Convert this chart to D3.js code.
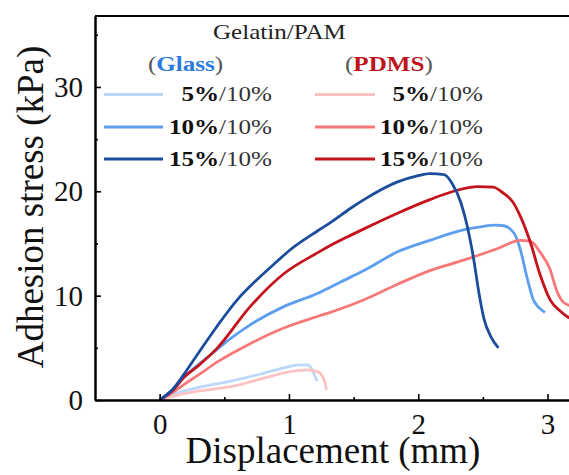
<!DOCTYPE html>
<html>
<head>
<meta charset="utf-8">
<script src="https://cdn.jsdelivr.net/npm/d3@7"></script>
<style>
  body { margin: 0; background: #fff; }
  svg { display: block; font-family: "Liberation Serif", "Times New Roman", serif; }
</style>
</head>
<body>
<svg id="chart" width="569" height="475"></svg>
<script>
// curves: [displacement mm, stress kPa]
const glass5 = [[0,0],[0.15,0.7],[0.3,1.2],[0.55,1.8],[0.8,2.55],[1.0,3.2],[1.06,3.35],[1.14,3.36],[1.18,2.9],[1.2,2.3],[1.22,1.8]];
const glass10 = [[0,0],[0.1,1.0],[0.19,2.2],[0.3,3.4],[0.44,4.8],[0.55,5.9],[0.7,7.2],[0.96,8.95],[1.22,10.2],[1.32,10.8],[1.48,11.8],[1.58,12.4],[1.84,14.2],[2.09,15.3],[2.35,16.3],[2.48,16.6],[2.6,16.75],[2.66,16.7],[2.74,16.0],[2.79,14.4],[2.84,11.8],[2.89,9.6],[2.93,8.9],[2.98,8.4]];
const glass15 = [[0,0],[0.1,1.0],[0.19,2.5],[0.3,4.5],[0.44,7.0],[0.6,9.6],[0.75,11.5],[0.9,13.2],[1.01,14.4],[1.22,16.2],[1.32,17.0],[1.48,18.4],[1.58,19.2],[1.84,20.9],[2.0,21.5],[2.09,21.7],[2.2,21.6],[2.26,20.8],[2.33,18.9],[2.38,16.6],[2.43,13.4],[2.47,10.2],[2.51,7.7],[2.56,6.1],[2.62,5.0]];
const pdms5 = [[0,0],[0.15,0.5],[0.3,0.85],[0.55,1.27],[0.8,2.08],[1.01,2.72],[1.14,2.88],[1.22,2.72],[1.26,2.24],[1.28,1.6],[1.29,0.96]];
const pdms10 = [[0,0],[0.1,0.7],[0.19,1.5],[0.3,2.4],[0.44,3.6],[0.7,5.4],[0.96,6.9],[1.22,8.0],[1.32,8.4],[1.48,9.1],[1.58,9.6],[1.84,11.1],[2.09,12.4],[2.35,13.4],[2.61,14.5],[2.79,15.3],[2.87,15.2],[2.94,14.2],[3.02,12.5],[3.07,10.5],[3.12,9.4],[3.16,9.1],[3.2,8.9]];
const pdms15 = [[0,0],[0.1,0.9],[0.19,2.2],[0.3,3.3],[0.44,4.9],[0.7,8.95],[0.96,12.1],[1.22,14.1],[1.32,14.8],[1.48,15.8],[1.58,16.4],[1.84,17.9],[2.09,19.2],[2.3,20.1],[2.46,20.45],[2.58,20.4],[2.66,19.8],[2.73,19.0],[2.79,17.6],[2.87,15.0],[2.94,12.1],[3.02,9.6],[3.1,8.5],[3.15,8.0],[3.2,7.7]];

const seriesNames = ["glass5", "pdms5", "glass10", "pdms10", "pdms15", "glass15"];
const seriesData = [glass5, pdms5, glass10, pdms10, pdms15, glass15];
const seriesColors = ["#bcd7f7", "#fbc3c3", "#5e9eef", "#f77878", "#c4131b", "#1b4d9c"];

const xTicks = [0, 1, 2, 3];
const xMinor = [0.5, 1.5, 2.5];
const yTicks = [0, 10, 20, 30];
const yMinor = [5, 15, 25, 35];

const legendPercent = ["5%", "10%", "15%"];
const legendRest = "/10%";
const glassColors = ["#bcd7f7", "#5e9eef", "#1b4d9c"];
const pdmsColors = ["#fbc3c3", "#f77878", "#c4131b"];

const svg = d3.select("#chart");
const mLeft = 95, mTop = 16, mBottom = 400;

const x = d3.scaleLinear().domain([-0.5, 3.3]).range([mLeft, mLeft + 3.8 * 129.3]);
const y = d3.scaleLinear().domain([0, 36.8]).range([mBottom, mTop]);

svg.append("defs").append("clipPath").attr("id", "plot")
  .append("rect").attr("x", mLeft).attr("y", mTop).attr("width", 600).attr("height", mBottom - mTop);

// curves
const line = d3.line().x(d => x(d[0])).y(d => y(d[1])).curve(d3.curveMonotoneX);
svg.append("g").attr("clip-path", "url(#plot)")
  .selectAll("path").data(seriesData).enter().append("path")
  .attr("class", (d, i) => seriesNames[i])
  .attr("d", line)
  .attr("fill", "none")
  .attr("stroke", (d, i) => seriesColors[i])
  .attr("stroke-width", 2.8)
  .attr("stroke-linejoin", "round");

// axes
svg.append("g").attr("transform", `translate(0,${mBottom})`)
  .call(d3.axisBottom(x).tickValues(xTicks).tickSizeInner(-6).tickSizeOuter(0).tickPadding(13).tickFormat(d3.format("d")));
svg.append("g").attr("transform", `translate(0,${mBottom})`)
  .call(d3.axisBottom(x).tickValues(xMinor).tickSizeInner(-3).tickSizeOuter(0).tickFormat(""));
const yAxis = svg.append("g").attr("transform", `translate(${mLeft},0)`)
  .call(d3.axisLeft(y).tickValues(yTicks).tickSizeInner(-6).tickSizeOuter(0).tickPadding(12).tickFormat(d3.format("d")));
svg.append("g").attr("transform", `translate(${mLeft},0)`)
  .call(d3.axisLeft(y).tickValues(yMinor).tickSizeInner(-3).tickSizeOuter(0).tickFormat(""));

svg.selectAll(".domain").attr("stroke", "#000").attr("stroke-width", 2);
svg.selectAll(".tick line").attr("stroke", "#000").attr("stroke-width", 1.6);
svg.selectAll(".tick text").attr("font-family", "Liberation Serif").attr("font-size", 29).attr("fill", "#111");
yAxis.selectAll(".tick text").attr("dy", "0.33em");

// top border
svg.append("line").attr("x1", mLeft).attr("x2", x(3.3)).attr("y1", mTop).attr("y2", mTop)
  .attr("stroke", "#000").attr("stroke-width", 2);

// axis titles
svg.append("text").attr("x", 333).attr("y", 463).attr("text-anchor", "middle")
  .attr("font-size", 37).attr("fill", "#111").text("Displacement (mm)");
svg.append("text").attr("transform", "translate(43,207) rotate(-90)").attr("text-anchor", "middle")
  .attr("font-size", 37).attr("fill", "#111").text("Adhesion stress (kPa)");

// legend
const stretch = 1.14;
const lg = svg.append("g").attr("font-size", 22).attr("fill", "#222");
lg.append("text").attr("transform", `translate(213,39) scale(${stretch},1)`).text("Gelatin/PAM");

const glassHead = lg.append("text").attr("transform", `translate(148,71) scale(${stretch},1)`);
glassHead.append("tspan").attr("fill", "#555").text("(");
glassHead.append("tspan").attr("fill", "#2b7be0").attr("font-weight", "bold").text("Glass");
glassHead.append("tspan").attr("fill", "#555").text(")");

const pdmsHead = lg.append("text").attr("transform", `translate(345,71) scale(${stretch},1)`);
pdmsHead.append("tspan").attr("fill", "#555").text("(");
pdmsHead.append("tspan").attr("fill", "#c0141c").attr("font-weight", "bold").text("PDMS");
pdmsHead.append("tspan").attr("fill", "#555").text(")");

const rowY = [94.5, 127, 159];
function legendColumn(x0, x1, textRight, colors) {
  legendPercent.forEach((p, i) => {
    lg.append("line").attr("x1", x0).attr("x2", x1).attr("y1", rowY[i]).attr("y2", rowY[i])
      .attr("stroke", colors[i]).attr("stroke-width", 3);
    const t = lg.append("text").attr("text-anchor", "end")
      .attr("transform", `translate(${textRight},${rowY[i] + 6.5}) scale(${stretch},1)`);
    t.append("tspan").attr("font-weight", "bold").attr("fill", "#111").text(p);
    t.append("tspan").attr("fill", "#333").text(legendRest);
  });
}
legendColumn(104, 163, 272, glassColors);
legendColumn(315, 375, 483, pdmsColors);
</script>
</body>
</html>
